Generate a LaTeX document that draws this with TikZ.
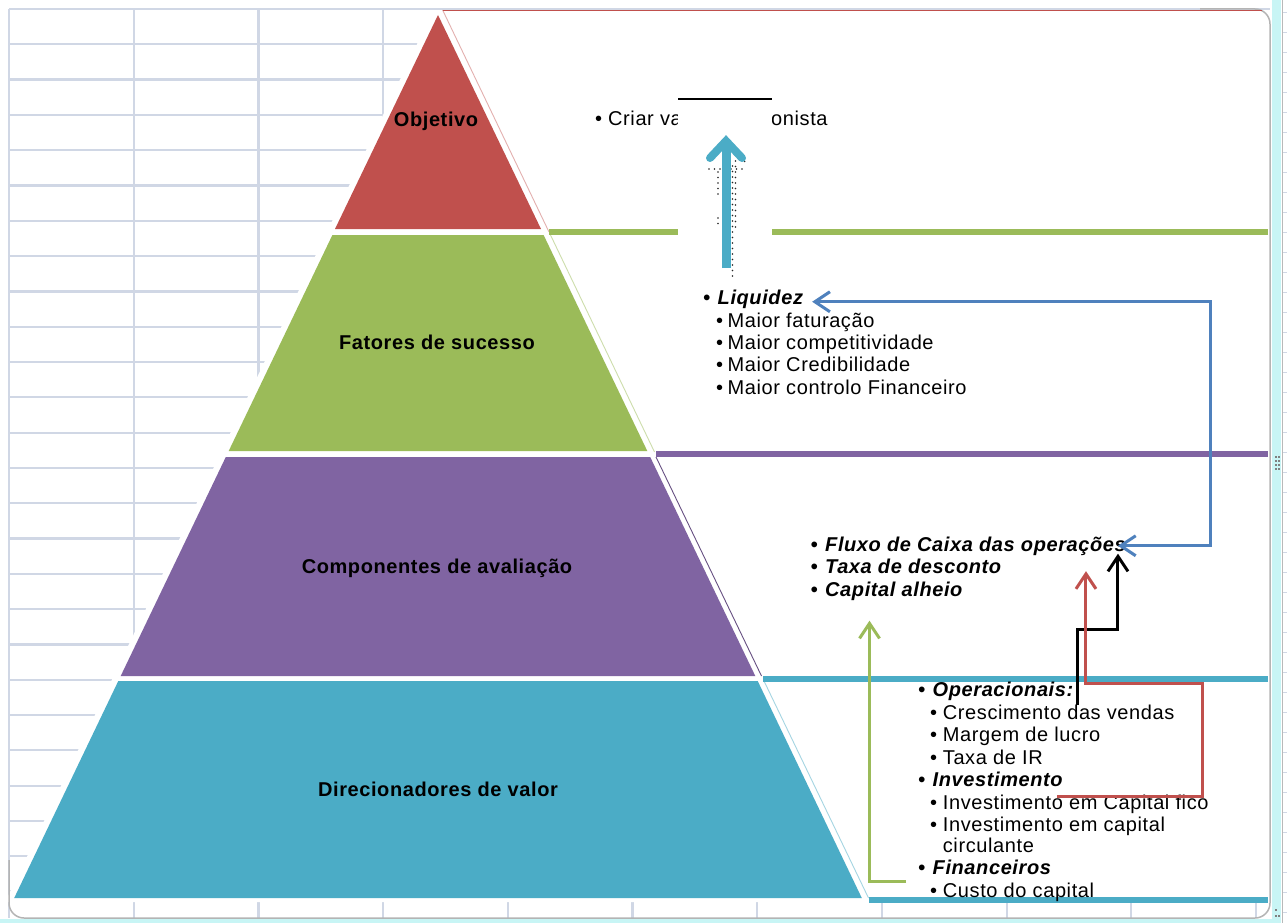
\documentclass[tikz,border=0pt]{standalone}
\usepackage{fontspec}
\setmainfont{Liberation Sans}[LetterSpace=3]
\usetikzlibrary{arrows.meta,calc}

\definecolor{gridc}{HTML}{D0D7E5}
\definecolor{lvred}{HTML}{C0504D}
\definecolor{lvgreen}{HTML}{9BBB59}
\definecolor{lvpurple}{HTML}{8064A2}
\definecolor{lvteal}{HTML}{4BACC6}
\definecolor{lnblue}{HTML}{4F81BD}
\definecolor{selcyan}{HTML}{C8F5F5}
\definecolor{framec}{HTML}{B4B4B4}

% bullet in a box of fixed width, so the item text starts at a set indent
\newcommand\bul[1]{\makebox[#1][l]{•}}

\begin{document}
\begin{tikzpicture}[x=1pt,y=-1pt,
  gridline/.style={gridc,line width=2.2pt},
  lvl/.style={anchor=base,inner sep=0pt,font=\fontsize{20}{22}\selectfont\bfseries},
  txt/.style={anchor=base west,inner sep=0pt,text height=15pt,text depth=4.5pt,
              font=\fontsize{20}{22}\selectfont},
  hd/.style={txt,font=\fontsize{20}{22}\selectfont\bfseries\itshape},
  band/.style={line width=5.5pt},
  diag/.style={line width=0.9pt},
  conn/.style={#1,line width=3pt,-{Straight Barb[length=15pt,width=20pt]}},
  shadowdots/.style={gray!30!black,line width=1.8pt,line cap=round,dash pattern=on 0pt off 5.5pt}
]
\useasboundingbox (0,0) rectangle (1287,923);
\fill[white] (0,0) rectangle (1287,923);

% selection strips round the sheet area
\fill[selcyan] (1272,0) rectangle (1281,923);
\fill[selcyan] (0,919) rectangle (1281,923);
\draw[gray!55,line width=0.8pt] (1282,0) -- (1282,923);
\foreach \k in {0,...,45} \draw[gridc,line width=0.8pt] (1283,{12+20*\k}) -- (1287,{12+20*\k});

% spreadsheet grid
\foreach \i in {0,...,10} \draw[gridline] ({9+124.7*\i},9) -- ({9+124.7*\i},918);
\foreach \j in {0,...,25} \draw[gridline] (9,{9+35.3*\j}) -- (1270,{9+35.3*\j});

% white ground of the pyramid and its text panels
\fill[white] (433.2,10.5) -- (1270,10.5) -- (1270,902) -- (5.2,902) -- cycle;

% chart frame
\draw[framec,line width=1.5pt,rounded corners=15pt] (9,860) -- (9,918) -- (1270,918) -- (1270,9) -- (1200,9);

% handles
\foreach \yy in {456,460,464,468} {\fill[gray] (1275,\yy) rectangle ++(1.6,1.6); \fill[gray] (1278,\yy) rectangle ++(1.6,1.6);}
\foreach \yy in {909,915} {\fill[gray] (1275,\yy) rectangle ++(2,2);}
\fill[gray] (1278,915) rectangle ++(2,2);

% pyramid levels
\fill[lvred]    (438,15) -- (541,229) -- (335,229) -- cycle;
\fill[lvgreen]  (332.4,235) -- (543.6,235) -- (647.3,451) -- (228.7,451) -- cycle;
\fill[lvpurple] (225.8,457) -- (650.2,457) -- (755.3,676) -- (120.7,676) -- cycle;
\fill[lvteal]   (118.3,681) -- (757.7,681) -- (861.8,898) -- (14.2,898) -- cycle;

% text panels: slanted edges and top rules
\draw[diag,lvred!45]    (442.6,10) -- (549,232);
\draw[diag,lvgreen!50]  (550.5,235) -- (654.5,452);
\draw[diag,lvpurple!80!black] (656,457) -- (761.5,676);
\draw[diag,lvteal!50]   (764,681) -- (868.5,898);
\draw[lvred,line width=1.5pt] (443,10.5) -- (1262,10.5);
\draw[band,lvgreen]  (549,232) -- (1268,232);
\draw[band,lvpurple] (656,454) -- (1268,454);
\draw[band,lvteal]   (763,679) -- (1268,679);
\draw[band,lvteal]   (869,900) -- (1268,900);

% level names
\node[lvl] (obj)  at (436,127) {Objetivo};
\node[lvl] (fat)  at (437,349) {Fatores de sucesso};
\node[lvl] (comp) at (437,573) {Componentes de avaliação};
\node[lvl] (dir)  at (438,796) {Direcionadores de valor};

% objective
\node[txt] (criarA) at (595,126) {\bul{13pt}Criar va};
\node[txt] (criarB) at (771,126) {onista};

% success factors
\node[hd]  (liq) at (703,304)   {\bul{14.5pt}Liquidez};
\node[txt] (mA)  at (716,327)   {\bul{11.5pt}Maior faturação};
\node[txt] (mB)  at (716,349)   {\bul{11.5pt}Maior competitividade};
\node[txt] (mC)  at (716,371.5) {\bul{11.5pt}Maior Credibilidade};
\node[txt] (mD)  at (716,394)   {\bul{11.5pt}Maior controlo Financeiro};

% valuation components
\node[hd] (fluxo)   at (810.5,551) {\bul{14.5pt}Fluxo de Caixa das operações};
\node[hd] (taxa)    at (810.5,573) {\bul{14.5pt}Taxa de desconto};
\node[hd] (capital) at (810.5,596) {\bul{14.5pt}Capital alheio};

% value drivers
\node[hd]  (oper)  at (918,696) {\bul{14.5pt}Operacionais:};
\node[txt] (cresc) at (930,719) {\bul{12.7pt}Crescimento das vendas};
\node[txt] (marg)  at (930,741) {\bul{12.7pt}Margem de lucro};
\node[txt] (ir)    at (930,764) {\bul{12.7pt}Taxa de IR};
\node[hd]  (inv)   at (918,786) {\bul{14.5pt}Investimento};
\node[txt] (invA)  at (930,809) {\bul{12.7pt}Investimento em Capital fico};
\node[txt] (invB)  at (930,831) {\bul{12.7pt}Investimento em capital};
\node[txt] (invC)  at (942.7,852) {circulante};
\node[hd]  (fin)   at (918,874) {\bul{14.5pt}Financeiros};
\node[txt] (custo) at (930,897) {\bul{12.7pt}Custo do capital};

% box over the objective line, with the rising arrow and its dotted shadow
\fill[white] (678,99) rectangle (772,237);
\draw[black,line width=1.3pt] (678,99) -- (772,99);
\draw[shadowdots] (732.5,166) -- (732.5,276);
\draw[shadowdots] (735.5,150) -- (735.5,230);
\draw[shadowdots] (718,172) -- (718,196);
\draw[shadowdots] (718,218) -- (718,226);
\draw[shadowdots] (709,169) -- (746,169);
\draw[shadowdots] (730,145) -- (746,163);
\draw[lvteal,line width=9pt] (726,268) -- (726,145);
\draw[lvteal,line width=8pt,line cap=round,line join=miter] (710,158) -- (726,141) -- (742,158);

% connectors
\coordinate (bA) at ($(fluxo.east)+(-8,0)$);
\coordinate (bB) at ($(liq.east)+(9,3)$);
\coordinate (bC) at (1210,0);
\draw[conn=lnblue,{Straight Barb[length=15pt,width=20pt]}-{Straight Barb[length=15pt,width=20pt]}]
  (bA) -| (bC |- bB) -- (bB);

\coordinate (kA) at ($(cresc.north west)+(147,1)$);
\coordinate (kB) at ($(fluxo.south east)+(-8,-2)$);
\draw[conn=black] (kA) -- ++(0,-75) -| (kB);

\coordinate (rA) at ($(invA.north west)+(127,3)$);
\coordinate (rB) at ($(fluxo.south east)+(-40,15.5)$);
\draw[conn=lvred] (rA) -- ++(145,0) -- ++(0,-113) -| (rB);

\coordinate (gA) at ($(custo.north west)+(-24,-0.5)$);
\coordinate (gB) at ($(capital.south west)+(59,20)$);
\draw[conn=lvgreen] (gA) -| (gB);
\end{tikzpicture}
\end{document}
